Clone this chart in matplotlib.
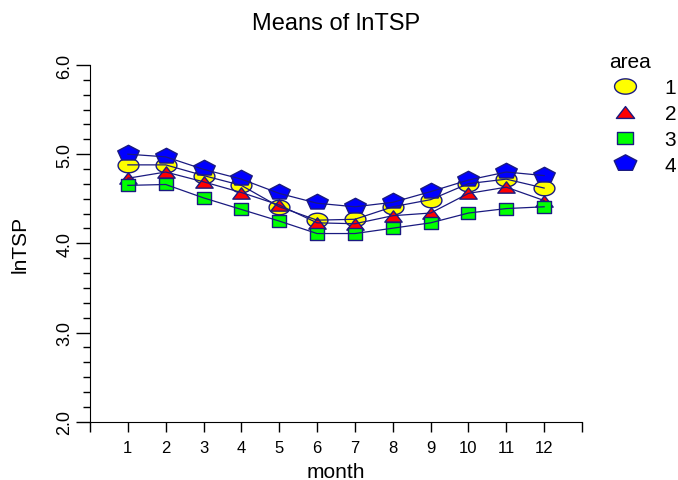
import numpy as np
import matplotlib
matplotlib.use("Agg")
import matplotlib.pyplot as plt
from matplotlib.path import Path
from matplotlib.lines import Line2D

plt.rcParams["font.family"] = ["Liberation Sans", "DejaVu Sans"]

# ---- data ----
months = [1, 2, 3, 4, 5, 6, 7, 8, 9, 10, 11, 12]
area_1 = [4.88, 4.88, 4.76, 4.65, 4.41, 4.26, 4.27, 4.41, 4.49, 4.67, 4.72, 4.62]
area_2 = [4.73, 4.80, 4.69, 4.57, 4.43, 4.23, 4.22, 4.31, 4.34, 4.56, 4.63, 4.48]
area_3 = [4.65, 4.66, 4.51, 4.38, 4.25, 4.11, 4.11, 4.17, 4.23, 4.34, 4.39, 4.41]
area_4 = [5.00, 4.97, 4.83, 4.72, 4.56, 4.45, 4.41, 4.46, 4.58, 4.71, 4.80, 4.76]
area_names = ["1", "2", "3", "4"]
yticks = [2.0, 3.0, 4.0, 5.0, 6.0]

EDGE = "#1a1a80"


def shape(verts):
    verts = list(verts) + [verts[0]]
    codes = [Path.MOVETO] + [Path.LINETO] * (len(verts) - 2) + [Path.CLOSEPOLY]
    return Path(verts, codes)


# flattened markers like in the original
t = np.linspace(0, 2 * np.pi, 60, endpoint=False)
ellipse = shape(list(zip(np.cos(t), 0.7 * np.sin(t))))
tri = shape([(-1, -0.65), (1, -0.65), (0, 0.65)])
rect = shape([(-1, -0.82), (1, -0.82), (1, 0.82), (-1, 0.82)])
a = np.pi / 2 + np.arange(5) * 2 * np.pi / 5
pent = shape(list(zip(np.cos(a) / np.cos(np.pi / 10), 0.72 * np.sin(a) / np.cos(np.pi / 10) + 0.1)))

series = [area_1, area_2, area_3, area_4]
styles = [
    (ellipse, "#ffff00", 15),
    (tri, "#ff0000", 12.5),
    (rect, "#00ff00", 10.5),
    (pent, "#0000ff", 15.5),
]

fig = plt.figure(figsize=(6.78, 4.81), dpi=100)
ax = fig.add_axes([90 / 678, 1 - 422.7 / 481, 492 / 678, 356.7 / 481])

for vals, (mk, col, ms) in zip(series, styles):
    ax.plot(months, vals, linestyle="none", marker=mk, markersize=ms,
            markerfacecolor=col, markeredgecolor=EDGE, markeredgewidth=1.0, zorder=2)
for vals in series:
    ax.plot(months, vals, color=EDGE, linewidth=0.9, zorder=3)

ax.set_xlim(0, 13)
ax.set_ylim(2.0, 6.0)
ax.set_xticks(range(0, 14))
ax.set_xticklabels([""] + [str(m) for m in months] + [""])
ax.set_yticks(yticks)
ax.set_yticklabels([f"{v:.1f}" for v in yticks], rotation=90, va="center")
ax.set_yticks(np.arange(2.0, 6.0001, 1 / 6), minor=True)
ax.tick_params(axis="y", which="major", length=10, width=1, labelsize=13, pad=2)
ax.tick_params(axis="y", which="minor", length=5, width=1)
ax.tick_params(axis="x", which="major", length=7.5, width=1, labelsize=12, pad=5.5)
for s in ["top", "right"]:
    ax.spines[s].set_visible(False)

ax.set_title("Means of lnTSP", fontsize=17, pad=26)
ax.set_xlabel("month", fontsize=15, labelpad=5.5)
ax.set_ylabel("lnTSP", fontsize=15, labelpad=19)

handles = [Line2D([], [], linestyle="none", marker=mk, markersize=ms * 1.05,
                  markerfacecolor=col, markeredgecolor=EDGE, markeredgewidth=1.0)
           for (mk, col, ms) in styles]
leg = fig.legend(handles, area_names, title="area", loc="upper left",
                 bbox_to_anchor=(601 / 678, 1 - 45 / 481), frameon=False,
                 fontsize=15, title_fontsize=15, handlelength=1.5,
                 handletextpad=1.15, labelspacing=0.33, borderaxespad=0,
                 alignment="left")

fig.savefig("out.png", dpi=100)
